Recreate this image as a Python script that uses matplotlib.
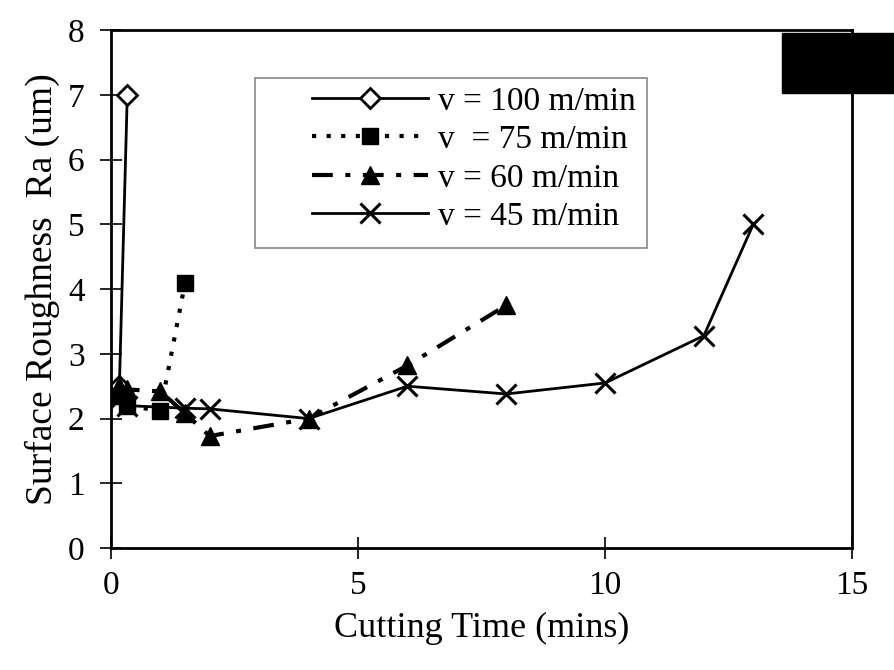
import matplotlib
matplotlib.use('Agg')
import matplotlib.pyplot as plt
from matplotlib.patches import Rectangle

plt.rcParams['font.family'] = ['Liberation Serif', 'DejaVu Serif']

# cutting time (mins) and surface roughness Ra (um) per cutting speed
t_100 = [0.17, 0.33]
ra_100 = [2.5, 7.0]

t_75 = [0.17, 0.33, 1.0, 1.5]
ra_75 = [2.35, 2.2, 2.12, 4.1]

t_60 = [0.17, 0.33, 1.0, 1.5, 2.0, 4.0, 6.0, 8.0]
ra_60 = [2.5, 2.45, 2.42, 2.08, 1.73, 2.0, 2.82, 3.75]

t_45 = [0.17, 0.33, 1.5, 2.0, 4.0, 6.0, 8.0, 10.0, 12.0, 13.0]
ra_45 = [2.3, 2.2, 2.16, 2.15, 2.0, 2.5, 2.38, 2.55, 3.28, 5.0]

labels = ['v = 100 m/min', 'v  = 75 m/min', 'v = 60 m/min', 'v = 45 m/min']

fig = plt.figure(figsize=(8.95, 6.7), dpi=100)
ax = fig.add_subplot(111)
fig.subplots_adjust(left=0.124, right=0.952, top=0.955, bottom=0.182)

ax.plot(t_100, ra_100, color='black', lw=2, ls='-', marker='D', ms=10,
        mfc='white', mec='black', mew=2, label=labels[0])
ax.plot(t_75, ra_75, color='black', lw=3, ls=(0, (1, 2.5)), marker='s', ms=12,
        mfc='black', mec='black', label=labels[1])
ax.plot(t_60, ra_60, color='black', lw=3, ls=(0, (5, 3, 1.2, 3)), marker='^', ms=13,
        mfc='black', mec='black', label=labels[2])
ax.plot(t_45, ra_45, color='black', lw=2, ls='-', marker='x', ms=14,
        mew=2.2, label=labels[3])

ax.set_xlim(0, 15)
ax.set_ylim(0, 8)
ax.set_xticks([0, 5, 10, 15])
ax.set_yticks(range(0, 9))

for s in ax.spines.values():
    s.set_linewidth(2)
    s.set_color('black')

ax.tick_params(direction='inout', length=16, width=1.2, labelsize=24, pad=8)
ax.tick_params(axis='y', pad=11)
ax.set_xlabel('Cutting Time (mins)', fontsize=26, labelpad=8)
ax.set_ylabel('Surface Roughness  Ra (um)', fontsize=27, labelpad=6)

# legend without its own frame; the box is drawn separately
ax.legend(loc='upper left', bbox_to_anchor=(0.271, 0.892), fontsize=24,
          numpoints=1, handlelength=3.5, handletextpad=0.3,
          labelspacing=0.24, borderpad=0, borderaxespad=0, frameon=False)
ax.add_patch(Rectangle((0.194, 0.579), 0.529, 0.328, transform=ax.transAxes,
                       fill=False, edgecolor='#888888', lw=1.2, zorder=4))

# black box in the top right corner of the original
fig.patches.append(Rectangle((782 / 895, 1 - 93 / 670), 113 / 895, 60 / 670,
                             transform=fig.transFigure, color='black', zorder=10))

fig.savefig('out.png', dpi=100)
